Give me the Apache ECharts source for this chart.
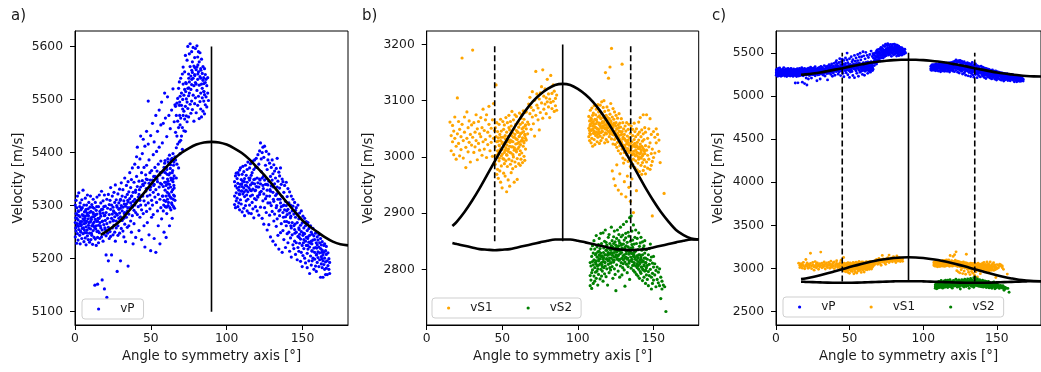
<!DOCTYPE html>
<html>
<head>
<meta charset="utf-8">
<script src="https://cdn.jsdelivr.net/npm/echarts@6/dist/echarts.min.js"></script>
<style>
html,body{margin:0;padding:0;background:#fff;}
#chart{width:1041px;height:372px;}
</style>
</head>
<body>
<div id="chart"></div>
<script>
// ---------- tick labels ----------
const angleTicks = [0, 50, 100, 150];
const ticksA = [5100, 5200, 5300, 5400, 5500, 5600];
const ticksB = [2800, 2900, 3000, 3100, 3200];
const ticksC = [2500, 3000, 3500, 4000, 4500, 5000, 5500];
const panelLabels = ['a)', 'b)', 'c)'];
const xName = 'Angle to symmetry axis [°]';
const yName = 'Velocity [m/s]';

// ---------- measured points: each row = [angle, velocity, velocity, ...] ----------
const vpRows = [
[0.2,5268,5301,5241],[0.7,5285,5252,5310],[1.1,5229,5276,5296],[1.6,5262,5318,5247],[2.0,5290,5235,5273],
[2.5,5255,5281,5324],[3.1,5244,5298,5266],[3.4,5279,5228,5305],[3.9,5262,5292,5250],[4.5,5311,5270,5238],
[4.8,5283,5257,5296],[5.3,5247,5275,5329],[5.9,5266,5301,5232],[6.2,5288,5254,5272],[6.8,5239,5314,5280],
[7.3,5260,5293,5226],[7.6,5301,5271,5249],[8.2,5243,5282,5320],[8.7,5275,5236,5294],[9.1,5258,5306,5268],
[9.6,5287,5248,5231],[10.2,5270,5318,5256],[10.5,5236,5289,5277],[11.1,5302,5262,5244],[11.6,5279,5227,5297],
[12.0,5253,5285,5312],[12.6,5269,5240,5295],[13.1,5150,5281,5258],[13.4,5306,5237,5274],[14.0,5262,5291,5225],
[14.5,5284,5251,5316],[14.9,5152,5271,5240],[15.5,5298,5263,5230],[16.0,5276,5320,5249],[16.4,5238,5289,5268],
[17.0,5258,5305,5280],[17.5,5293,5241,5327],[17.9,5160,5270,5254],[18.5,5286,5233,5309],[19.0,5264,5298,5246],
[19.4,5143,5281,5320],[20.0,5255,5299,5272],[20.5,5207,5287,5243],[21.0,5312,5127,5266],[21.5,5276,5248,5295],
[22.0,5196,5259,5321],[22.6,5283,5238,5302],[23.1,5269,5310,5251],[23.5,5293,5242,5334],[24.1,5207,5276,5301],
[24.6,5258,5318,5284],[25.1,5297,5245,5271],[25.7,5325,5263,5288],[26.2,5250,5306,5279],[26.6,5286,5233,5339],
[27.2,5271,5311,5258],[27.8,5176,5297,5282],[28.3,5262,5322,5244],[28.9,5305,5276,5293],[29.4,5248,5331,5286],
[30.0,5196,5279,5312],[30.5,5300,5257,5343],[31.1,5272,5318,5290],[31.6,5252,5297,5330],[32.2,5309,5276,5241],
[32.8,5287,5352,5265],[33.3,5316,5232,5299],[33.9,5278,5338,5303],[34.5,5259,5321,5290],[35.0,5186,5307,5345],
[35.5,5284,5326,5262],[36.1,5313,5362,5296],[36.7,5271,5334,5305],[37.2,5250,5318,5349],[37.8,5297,5281,5371],
[38.3,5228,5325,5308],[38.9,5344,5291,5266],[39.4,5312,5378,5301],[40.0,5240,5329,5287],[40.6,5355,5309,5392],
[41.1,5410,5283,5336],[41.7,5316,5372,5298],[42.2,5253,5346,5321],[42.8,5388,5310,5278],[43.3,5431,5335,5301],
[43.9,5292,5362,5236],[44.4,5347,5319,5398],[45.0,5285,5425,5338],[45.5,5309,5372,5262],[46.1,5222,5343,5412],
[46.6,5301,5358,5327],[47.2,5440,5289,5376],[47.7,5318,5349,5268],[48.3,5497,5305,5416],[48.8,5245,5342,5386],
[49.4,5320,5294,5362],[49.9,5432,5215,5335],[50.5,5278,5366,5310],[51.1,5455,5348,5301],[51.6,5325,5396,5283],
[52.2,5238,5340,5420],[52.7,5372,5316,5355],[53.3,5470,5212,5330],[53.8,5306,5402,5353],[54.4,5290,5440,5345],
[54.9,5378,5321,5262],[55.5,5480,5335,5410],[56.0,5312,5358,5228],[56.6,5452,5296,5384],[57.1,5340,5495,5275],
[57.6,5363,5318,5418],[58.2,5336,5455,5290],[58.7,5250,5372,5310],[59.1,5512,5344,5380],[59.6,5298,5362,5465],
[60.1,5318,5338,5240],[60.5,5430,5368,5285],[61.0,5350,5312,5505],[61.4,5382,5300,5346],[61.9,5470,5322,5358],
[62.3,5262,5340,5395],[62.8,5316,5445,5370],[63.2,5352,5292,5386],[63.7,5480,5326,5305],[64.1,5362,5276,5350],
[64.6,5520,5345,5398],[65.0,5298,5376,5320],[65.4,5356,5458,5333],[65.9,5392,5310,5490],
[66.3,5438,5386,5487],[66.8,5409,5470,5352],[67.2,5493,5431,5378],[67.7,5416,5502,5459],[68.3,5371,5447,5521],
[68.8,5489,5420,5533],[69.3,5452,5398,5506],[69.7,5540,5465,5423],[70.2,5431,5512,5489],[70.8,5548,5447,5406],
[71.3,5470,5529,5561],[71.8,5441,5508,5478],[72.3,5552,5463,5519],[72.8,5487,5583,5440],[73.4,5530,5469,5501],
[73.9,5574,5495,5458],[74.4,5521,5600,5483],[74.9,5467,5548,5507],[75.4,5586,5512,5533],[75.9,5491,5562,5605],
[76.4,5544,5474,5519],[76.9,5590,5528,5497],[77.4,5551,5481,5571],[77.9,5508,5598,5540],[78.4,5563,5459,5526],
[78.9,5492,5579,5547],[79.4,5532,5596,5503],[79.9,5475,5556,5529],[80.4,5601,5517,5561],[80.9,5538,5489,5580],
[81.4,5552,5506,5590],[81.9,5464,5527,5571],[82.4,5543,5588,5496],[82.9,5512,5558,5482],[83.4,5576,5529,5467],
[83.9,5503,5549,5521],[84.4,5562,5478,5536],[84.9,5497,5541,5515],[85.4,5473,5558,5509],[85.9,5532,5490,5547],
[86.4,5505,5538],[86.9,5486,5526],[87.5,5512,5541],[88.0,5498],
[0.5,5277,5258],[1.4,5283,5266],[2.3,5261,5289],[3.6,5270,5252],[4.2,5294,5264],[5.6,5258,5281],[6.5,5276,5249],
[7.0,5267,5290],[8.0,5254,5286],[8.9,5281,5263],[9.9,5269,5297],[10.8,5248,5274],[11.9,5287,5266],[12.3,5261,5279],
[13.7,5283,5256],[14.3,5270,5298],[15.2,5252,5276],[16.7,5285,5262],[18.2,5271,5293],[19.7,5258,5282],
[25.4,5290,5272],[27.5,5300,5284],[29.9,5295,5310],[32.5,5303,5285],[34.8,5310,5296],[37.5,5318,5300],
[39.9,5325,5305],[42.5,5330,5312],[44.7,5340,5318],[47.0,5332,5350],[49.6,5348,5330],[51.9,5355,5338],
[54.1,5350,5365],[56.3,5362,5342],
[58.0,5318,5352],[58.5,5366,5301],[59.4,5329,5385],[59.8,5344,5308],[60.3,5372,5297],[60.8,5325,5359],
[61.2,5341,5388],[61.6,5306,5333],[62.1,5378,5319],[62.6,5296,5361],[63.0,5335,5377],[63.5,5314,5348],
[64.0,5389,5302],[64.4,5330,5366],[64.8,5351,5312],[65.2,5382,5338],[65.6,5318,5295],
[69.0,5470,5495],[71.0,5500,5482],[73.0,5515,5532],[75.0,5540,5522],[77.0,5555,5538],[79.0,5560,5545],
[81.0,5548,5565],[83.0,5540,5555],[85.0,5530,5515],
[105.2,5318,5345,5302],[105.8,5337,5296,5356],[106.3,5324,5361,5309],[106.9,5351,5314,5333],[107.4,5298,5342,5362],
[108.0,5329,5305,5358],[108.5,5367,5321,5292],[109.1,5340,5371,5311],[109.6,5303,5349,5327],[110.2,5359,5288,5336],
[110.7,5322,5374,5346],[111.3,5295,5333,5364],[111.8,5351,5317,5281],[112.4,5338,5376,5300],[112.9,5309,5357,5329],
[113.5,5368,5290,5344],[114.0,5326,5382,5312],[114.6,5352,5286,5334],[115.1,5301,5371,5348],[115.7,5339,5318,5379],
[116.2,5285,5357,5328],[116.8,5362,5306,5343],[117.3,5331,5384,5294],[117.9,5349,5277,5368],[118.4,5313,5341,5386],
[119.0,5372,5298,5329],[119.5,5336,5389,5311],[120.1,5290,5352,5372],[120.6,5343,5316,5396],[121.2,5378,5282,5335],
[121.7,5321,5403,5350],[122.3,5418,5297,5341],[122.8,5364,5327,5388],[123.4,5276,5352,5400],[123.9,5338,5410,5309],
[124.5,5391,5322,5265],[125.0,5348,5412,5296],[125.6,5313,5376,5340],[126.1,5402,5287,5351],[126.7,5329,5368,5254],
[127.2,5386,5305,5339],[127.8,5264,5346,5397],[128.3,5318,5380,5282],[128.9,5355,5241,5327],[129.4,5372,5300,5337],
[130.0,5289,5348,5386],[130.5,5325,5233,5360],[131.1,5377,5308,5271],[131.6,5341,5284,5365],[132.2,5226,5319,5352],
[132.7,5296,5370,5261],[133.3,5335,5275,5389],[133.8,5312,5244,5346],[134.4,5363,5290,5218],[134.9,5281,5333,5356],
[135.5,5305,5249,5371],[136.0,5340,5266,5298],[136.6,5212,5317,5350],[137.1,5287,5345,5253],[137.7,5325,5236,5301],
[138.2,5270,5338,5292],[138.8,5308,5221,5279],[139.3,5344,5262,5300],[139.9,5247,5317,5283],[140.4,5293,5332,5230],
[141.0,5268,5305,5250],[141.5,5214,5286,5326],[142.1,5277,5239,5301],[142.6,5318,5258,5203],[143.2,5245,5290,5268],
[143.7,5299,5226,5312],[144.3,5262,5284,5219],[144.8,5233,5306,5255],[145.4,5278,5208,5291],[145.9,5250,5296,5230],
[146.5,5198,5268,5284],[147.0,5242,5301,5221],[147.6,5275,5214,5258],[148.1,5229,5286,5246],[148.7,5263,5195,5237],
[149.2,5290,5251,5212],[149.8,5225,5267,5185],[150.3,5244,5280,5206],[150.9,5258,5219,5236],[151.4,5201,5276,5247],
[152.0,5233,5192,5262],[152.5,5270,5225,5240],[153.1,5210,5253,5183],[153.6,5241,5268,5218],[154.2,5196,5231,5257],
[154.7,5172,5244,5222],[155.3,5229,5262,5205],[155.8,5250,5188,5233],[156.4,5214,5246,5196],[156.9,5235,5201,5257],
[157.5,5220,5180,5243],[158.0,5199,5236,5212],[158.6,5248,5221,5186],[159.1,5207,5230,5176],[159.7,5226,5193,5241],
[160.2,5213,5235,5202],[160.8,5185,5222,5245],[161.3,5230,5198,5211],[161.9,5165,5219,5238],[162.4,5204,5226,5190],
[163.0,5216,5183,5232],[163.5,5165,5207,5196],[164.1,5225,5189,5212],[164.6,5201,5228,5180],[165.2,5194,5215,5170],
[165.7,5208,5182,5223],[166.3,5196,5170],[166.8,5211,5187],[167.4,5180,5200],[167.9,5193,5172],
[108.3,5335,5322],[110.0,5341,5328],[111.6,5326,5345],[113.2,5337,5320],[115.4,5330,5352],[117.0,5342,5320],
[118.7,5328,5350],[120.4,5335,5318],[122.0,5348,5325],[124.2,5332,5355],[126.4,5318,5340],[128.6,5330,5305],
[130.8,5312,5335],[133.0,5300,5322],[135.2,5292,5312],[137.4,5278,5300],[139.6,5270,5290],[142.3,5262,5280],
[145.0,5248,5265],[147.8,5240,5255],[150.6,5230,5248],[153.4,5225,5238],[156.2,5215,5228],[159.4,5208,5220],
[162.8,5200,5212]
];

const vs1Rows = [
[15.4,3062],[16.2,3038,3011],[17.1,3027,3056],[17.9,3004,3046],[18.6,3071,3033],[19.5,3019,2996],
[20.3,3105,3041],[21.1,3024,3063],[21.8,3049,3002],[22.7,3013,3036],[23.4,3176,3058],[24.2,2998,3029],
[25.0,3044,3071],[25.9,3017,2981],[26.6,3080,3033],[27.4,3052,3009],[28.1,3026,3064],[28.9,2991,3040],
[29.7,3057,3021],[30.4,3190,3035],[31.2,3008,3061],[32.0,3044,3018],[32.7,3029,3075],[33.5,2995,3050],
[34.3,3063,3024],[35.0,3012,3041],[35.8,3070,3036],[36.6,3003,3052],[37.3,3085,3027],[38.1,3047,3014],
[38.9,3031,3066],[39.6,3075,2999],[40.4,3022,3044],[41.2,3090,3058],[41.9,3011,3037],[42.7,3051,3026],
[43.5,3066,3001],[44.2,3033,3095],[44.9,2990,3047],
[45.4,3018,2987,3052],[45.9,3128,3003,3036],[46.4,2969,3027,3061],[46.9,3011,2978,3045],[47.4,3034,2962,3006],
[47.9,2993,3058,3021],[48.4,3040,3012,2975],[48.9,2955,3029,3067],[49.4,3002,3046,2984],[49.9,3024,2945,3013],
[50.4,3063,2997,3035],[50.9,2971,3019,3049],[51.4,3008,3057,2988],[51.9,3038,2966,3025],[52.4,2993,3070,3016],
[52.9,3044,3004,2938],[53.4,3027,2983,3061],[53.9,2959,3036,3010],[54.4,3052,2996,3074],[54.9,3019,3048,2948],
[55.4,2987,3030,3063],[55.9,3055,3007,2972],[56.4,3028,3081,2993],[56.9,2979,3043,3018],[57.4,3066,3000,3035],
[57.9,3012,2955,3050],[58.4,3040,3075,2991],[58.9,2983,3023,3058],[59.4,3047,3009,3072],[59.9,3031,2997,2960],
[60.4,3062,3015,3044],[60.9,2988,3053,3026],[61.4,3037,3078,3004],[61.9,3011,2985,3058],[62.4,3069,3028,2996],
[62.9,3043,3007,3075],[63.4,2990,3034,3061],[63.9,3052,3019,3082],[64.4,3025,3067,3001],[64.9,3079,3040,2994],
[65.4,3014,3057,3033],[65.9,3050,3080,3030],
[47.2,3010,3028],[48.1,2998,3020],[49.1,3015,3035],[50.1,3005,3026],[51.1,3022,2996],[52.1,3012,3032],
[53.1,3003,3021],[54.1,3030,3014],[55.1,3008,3026],[56.1,3018,3038],[57.1,3027,3004],[58.1,3016,3035],
[59.1,3032,3012],[60.1,3024,3044],[61.1,3018,3036],[62.1,3041,3022],[63.1,3030,3050],[64.1,3045,3028],[65.1,3038,3055],
[66.8,3062,3041],[67.5,3094,3058],[68.3,3077,3106],[69.1,3049,3088],[69.9,3116,3071],[70.6,3083,3059],
[71.4,3101,3037],[72.2,3152,3074],[72.9,3092,3112],[73.7,3066,3087],[74.5,3103,3048],[75.2,3079,3114],
[76.0,3096,3125],[76.8,3155,3069],[77.5,3108,3085],[78.3,3121,3094],[79.1,3077,3105],[79.8,3138,3098],
[80.6,3089,3112],[81.4,3070,3103],[82.1,3145,3097],[82.9,3113,3086],[83.7,3099,3128],[84.4,3081,3117],
[85.2,3104,3091],[86.0,3110,3083],
[107.3,3051,3072,3036],[107.8,3064,3029,3047],[108.3,3040,3083,3058],[108.8,3069,3048,3025],[109.3,3033,3061,3087],
[109.8,3055,3019,3074],[110.3,3078,3042,3063],[110.8,3046,3091,3031],[111.3,3067,3053,3022],[111.8,3038,3075,3059],
[112.3,3085,3044,3066],[112.8,3027,3062,3050],[113.3,3071,3035,3093],[113.8,3049,3080,3041],[114.3,3060,3024,3073],
[114.8,3092,3056,3037],[115.3,3043,3068,3029],[115.8,3077,3051,3098],[116.3,3034,3063,3045],[116.8,3070,3088,3055],
[117.3,3100,3039,3062],[117.8,3057,3025,3081],[118.3,3150,3066,3043],[118.8,3031,3074,3052],[119.3,3089,3048,3060],
[119.8,3059,3027,3070],[120.3,3140,3045,3083],[120.8,3068,3036,3054],[121.3,3160,3076,3041],[121.8,3049,3064,3095],
[122.3,3193,3032,3058],[122.8,3071,3044,2975],[123.3,3086,3052,3023],[123.8,2961,3039,3067],[124.3,3058,3080,3031],
[124.8,3022,3046,2949],[125.3,3074,3035,3061],[125.8,2986,3050,3017],[126.3,3042,3069,3026],[126.8,3057,3011,2941],
[127.3,3033,3077,3046],[127.8,2970,3020,3060],[128.3,3039,3006,3053],[128.8,3068,3027,2934],[129.3,3165,3014,3045],
[129.8,3032,2998,3061],[130.3,2989,3050,3021],[130.8,3008,3040,2956],[131.3,3055,3017,2995],[131.8,3029,2929,3046],
[132.3,3004,3061,3023],[132.8,2966,3037,3012],[133.3,3049,2992,3030],[133.8,3021,2946,3058],[134.3,2998,3034,3010],
[134.8,3042,2983,2921],[135.3,3016,3055,2993],[135.8,2961,3027,3006],[136.3,3038,2987,3049],[136.8,2901,3019,2996],
[137.3,3031,3060,3005],[137.8,2981,3024,3045],[138.3,3012,2993,3036],[138.8,2940,3050,3003],[139.3,3026,2977,3018],
[139.8,3040,3007,2989],[140.3,2996,3030,3062],[140.8,3015,2974,3044],[141.3,3070,2999,3023],[141.8,2985,3036,3008],
[142.3,3019,2969,3048],[142.8,3002,3028,2990],[143.3,3041,2976,3075],[143.8,2995,3013,3031],[144.3,3052,2983,3006],
[144.8,3020,2970,3044],[145.5,2991,3075,3012],[146.2,3033,2980,3003],[147.0,3050,2996,3018],[147.8,2978,3068,3025],
[148.6,3006,3040,2985],[149.3,2895,3014,2992],[150.1,3045,2999],[151.0,3035,3007],[151.9,3025,3050],
[152.8,3040],[153.7,3010,3030],[154.5,2990],[157.1,2935],
[108.0,3055,3042],[109.0,3047,3066],[110.0,3060,3050],[111.0,3042,3058],[112.0,3066,3052],[113.0,3050,3040],
[114.0,3058,3045],[115.0,3054,3070],[116.0,3046,3060],[117.0,3062,3052],[118.0,3050,3068],[119.0,3057,3041],
[120.0,3052,3066],[121.0,3060,3045],[122.0,3048,3062],[123.0,3056,3040],[124.0,3045,3060],[125.0,3040,3055],
[126.0,3050,3034],[127.0,3038,3052],[128.0,3030,3045],[129.0,3025,3040],[130.0,3035,3018],[131.0,3020,3032],
[132.0,3028,3010],[133.0,3015,3026],[134.0,3022,3008],[135.0,3012,3025],[136.0,3020,3004],[137.0,3010,3022],
[138.0,3018,3002],[139.0,3008,3020],[140.0,3015,3000],[141.0,3005,3018],[142.0,3012,2998],[143.0,3004,3016],
[144.0,3010,2995]
];

const vs2Rows = [
[108.2,2789,2771,2812],[108.7,2806,2836,2781],[109.2,2823,2794,2766],[109.7,2799,2842,2814],[110.2,2775,2808,2829],
[110.7,2817,2788,2851],[111.2,2836,2803,2779],[111.7,2795,2826,2812],[112.2,2860,2809,2784],[112.7,2822,2797,2840],
[113.2,2801,2831,2772],[113.7,2844,2815,2791],[114.2,2808,2855,2826],[114.7,2783,2819,2837],[115.2,2829,2800,2864],
[115.7,2812,2846,2788],[116.2,2797,2824,2805],[116.7,2865,2818,2779],[117.2,2803,2838,2821],[117.7,2850,2792,2813],
[118.2,2826,2870,2806],[118.7,2787,2834,2848],[119.2,2819,2801,2843],[119.7,2838,2772,2825],[120.2,2809,2857,2830],
[120.7,2862,2816,2794],[121.2,2827,2846,2803],[121.7,2799,2835,2811],[122.2,2875,2820,2842],[122.7,2805,2851,2829],
[123.2,2836,2784,2817],[123.7,2846,2813,2858],[124.2,2822,2868,2801],[124.7,2791,2834,2849],[125.2,2762,2826,2843],
[125.7,2855,2808,2831],[126.2,2819,2870,2840],[126.7,2837,2797,2824],[127.2,2851,2816,2862],[127.7,2786,2833,2847],
[128.2,2875,2828,2806],[128.7,2843,2812,2858],[129.2,2820,2790,2838],[129.7,2861,2835,2803],[130.2,2880,2817,2845],
[130.7,2799,2852,2826],[131.2,2770,2839,2813],[131.7,2856,2822,2864],[132.2,2832,2885,2809],[132.7,2818,2848,2794],
[133.3,2840,2805,2866],[133.8,2827,2859,2811],[134.3,2892,2836,2782],[134.8,2850,2815,2833],[135.3,2895,2802,2829],
[135.8,2844,2818,2868],[136.3,2807,2839,2852],[136.8,2823,2879,2798],[137.3,2845,2812,2830],[137.8,2795,2857,2821],
[138.3,2833,2806,2870],[138.8,2817,2846,2791],[139.3,2855,2823,2803],[139.8,2788,2835,2814],[140.3,2826,2865,2800],
[140.8,2809,2841,2784],[141.3,2847,2817,2796],[141.8,2822,2793,2857],[142.3,2804,2834,2813],[142.8,2780,2826,2849],
[143.3,2815,2799,2838],[143.8,2842,2808,2786],[144.3,2797,2829,2851],[144.8,2812,2775,2820],[145.4,2835,2803,2790],
[146.0,2782,2818,2807],[146.7,2826,2796,2771],[147.3,2809,2837,2789],[148.0,2845,2800,2816],[148.7,2786,2822,2765],
[149.4,2811,2793,2775],[150.1,2804,2823,2781],[150.9,2790,2810],[151.7,2798,2769],[152.5,2782,2804],
[153.3,2795,2776],[154.1,2771,2801],[154.9,2786,2748],[155.7,2779,2765],[156.6,2772],[157.5,2769],[158.3,2725],
[112.0,2815,2828],[113.0,2806,2822],[114.0,2818,2832],[115.0,2810,2824],[116.0,2822,2808],[117.0,2814,2830],
[118.0,2826,2812],[119.0,2818,2834],[120.0,2828,2815],[121.0,2820,2836],[122.0,2812,2830],[123.0,2825,2840],
[124.0,2830,2816],[125.0,2822,2838],[126.0,2832,2818],[127.0,2826,2842],[128.0,2818,2834],[129.0,2830,2845],
[130.0,2824,2810],[131.0,2836,2820],[132.0,2828,2842],[133.0,2820,2834],[134.0,2830,2815],[135.0,2822,2838],
[136.0,2814,2828],[137.0,2826,2808],[138.0,2818,2832],[139.0,2810,2824],[140.0,2820,2806],[141.0,2812,2826],
[142.0,2804,2818],[143.0,2814,2800],[144.0,2806,2820],[145.0,2798,2812]
];

// ---------- model curves ----------
const curveAngles = [17,20,25,30,35,40,45,50,55,60,65,70,75,80,85,90,95,100,105,110,115,120,125,130,135,140,145,150,155,160,165,170,175,180];
const vpCurve  = [5245,5250,5260,5272,5288,5305,5322,5340,5357,5372,5387,5399,5408,5415,5419,5420,5419,5415,5408,5399,5387,5372,5357,5340,5322,5305,5288,5272,5260,5250,5240,5232,5227,5225];
const vs1Curve = [2877,2885,2902,2922,2944,2968,2992,3016,3039,3061,3081,3098,3111,3121,3128,3130,3128,3121,3111,3098,3081,3061,3039,3016,2992,2968,2944,2922,2902,2885,2870,2861,2855,2853];
const vs2Curve = [2847,2845,2842,2839,2836,2835,2834,2835,2836,2839,2842,2845,2848,2851,2853,2853,2853,2851,2848,2845,2842,2839,2836,2835,2834,2835,2836,2839,2842,2845,2848,2851,2853,2853];

// ---------- reference lines ----------
const symAngle = 90;
const dashAngles = [45, 135];
const rangeA = [5100, 5600];
const rangeB = [2850, 3200];
const rangeC = [2850, 5500];

// ---------- build chart ----------
const FONT = 'DejaVu Sans';
const INK = '#1a1a1a';
const colors = { vP: '#0000ff', vS1: '#ffa500', vS2: '#008000' };
const dotKey = { vP: 'dP', vS1: 'dS1', vS2: 'dS2' };

function toPoints(rows) {
  const out = [];
  rows.forEach(r => { for (let i = 1; i < r.length; i++) out.push([r[0], r[i]]); });
  return out;
}
function curvePts(vals) { return curveAngles.map((a, i) => [a, vals[i]]); }

const grids = [
  { left: 75, top: 31, width: 273, height: 294 },
  { left: 426.7, top: 31, width: 272, height: 294 },
  { left: 776, top: 31, width: 274, height: 294 }
];
const yRanges = [[5075, 5629], [2701, 3224], [2345, 5753]];
const yTicks = [ticksA, ticksB, ticksC];
const yGaps = [50, 52, 51];
const plain = v => String(Math.round(v));

const xAxes = grids.map((g, i) => ({
  type: 'value', gridIndex: i, min: 0, max: 180,
  axisLine: { show: true, onZero: false, lineStyle: { color: '#000', width: 1 } },
  axisTick: { show: true, length: 5, customValues: angleTicks, lineStyle: { color: '#000', width: 1 } },
  axisLabel: { customValues: angleTicks, formatter: plain, margin: 8, fontSize: 12.3, color: INK, fontFamily: FONT },
  splitLine: { show: false },
  name: xName, nameLocation: 'middle', nameGap: 24,
  nameTextStyle: { fontSize: 13.3, color: INK, fontFamily: FONT }
}));
const yAxes = grids.map((g, i) => ({
  type: 'value', gridIndex: i, min: yRanges[i][0], max: yRanges[i][1],
  axisLine: { show: true, onZero: false, lineStyle: { color: '#000', width: 1 } },
  axisTick: { show: true, length: 5, customValues: yTicks[i], lineStyle: { color: '#000', width: 1 } },
  axisLabel: { customValues: yTicks[i], formatter: plain, margin: 12, fontSize: 12.3, color: INK, fontFamily: FONT },
  splitLine: { show: false },
  name: yName, nameLocation: 'middle', nameGap: yGaps[i], nameRotate: 90,
  nameTextStyle: { fontSize: 13.3, color: INK, fontFamily: FONT }
}));

const series = [];
function addScatter(name, rows, gi, size) {
  series.push({
    type: 'scatter', name: name, xAxisIndex: gi, yAxisIndex: gi,
    data: toPoints(rows), symbol: 'circle', symbolSize: size,
    itemStyle: { color: colors[name], opacity: 1 }, z: 2, silent: true
  });
}
function addCurve(vals, gi) {
  series.push({
    type: 'line', xAxisIndex: gi, yAxisIndex: gi, data: curvePts(vals),
    showSymbol: false, smooth: 0.3, lineStyle: { color: '#000', width: 2.6 }, z: 4, silent: true
  });
}
function addVLine(x, range, gi, dashed) {
  series.push({
    type: 'line', xAxisIndex: gi, yAxisIndex: gi, data: [[x, range[0]], [x, range[1]]],
    showSymbol: false, lineStyle: { color: '#000', width: 1.6, type: dashed ? [6, 3] : 'solid' }, z: 3, silent: true
  });
}

// panel a
addScatter('vP', vpRows, 0, 3.2);
addCurve(vpCurve, 0);
addVLine(symAngle, rangeA, 0, false);
// panel b
addScatter('vS1', vs1Rows, 1, 3.2);
addScatter('vS2', vs2Rows, 1, 3.2);
addCurve(vs1Curve, 1);
addCurve(vs2Curve, 1);
addVLine(symAngle, rangeB, 1, false);
dashAngles.forEach(a => addVLine(a, rangeB, 1, true));
// panel c
addScatter('vP', vpRows, 2, 2.9);
addScatter('vS1', vs1Rows, 2, 2.9);
addScatter('vS2', vs2Rows, 2, 2.9);
addCurve(vpCurve, 2);
addCurve(vs1Curve, 2);
addCurve(vs2Curve, 2);
addVLine(symAngle, rangeC, 2, false);
dashAngles.forEach(a => addVLine(a, rangeC, 2, true));

function dotStyle(c) { return { width: 3.2, height: 3.2, backgroundColor: c, borderRadius: 1.6 }; }
function legend(left, top, names) {
  return {
    left: left, top: top, orient: 'horizontal', data: names, icon: 'none',
    itemWidth: 0, itemHeight: 0, itemGap: 21, selectedMode: false,
    padding: [3, 9, 3, 2], borderColor: '#cfcfcf', borderWidth: 1, borderRadius: 3,
    backgroundColor: 'rgba(255,255,255,0.85)',
    formatter: n => '{gl|}{' + dotKey[n] + '|}{gr|}' + n,
    textStyle: {
      fontSize: 12, color: INK, fontFamily: FONT, lineHeight: 14,
      rich: {
        gl: { width: 8 }, gr: { width: 20 },
        dP: dotStyle(colors.vP), dS1: dotStyle(colors.vS1), dS2: dotStyle(colors.vS2)
      }
    },
    z: 10
  };
}

const titles = panelLabels.map((t, i) => ({
  text: t, left: [11, 362, 712][i], top: 9, padding: 0,
  textStyle: { fontSize: 15, fontWeight: 'normal', color: INK, fontFamily: FONT }
}));

const chart = echarts.init(document.getElementById('chart'), null, { renderer: 'canvas' });
chart.setOption({
  animation: false,
  backgroundColor: '#ffffff',
  title: titles,
  grid: grids.map(g => Object.assign({ show: true, borderColor: '#000', borderWidth: 1, backgroundColor: 'transparent', containLabel: false }, g)),
  xAxis: xAxes,
  yAxis: yAxes,
  legend: [
    legend(82, 299, ['vP']),
    legend(432, 298, ['vS1', 'vS2']),
    legend(783, 297, ['vP', 'vS1', 'vS2'])
  ],
  series: series
});
</script>
</body>
</html>
